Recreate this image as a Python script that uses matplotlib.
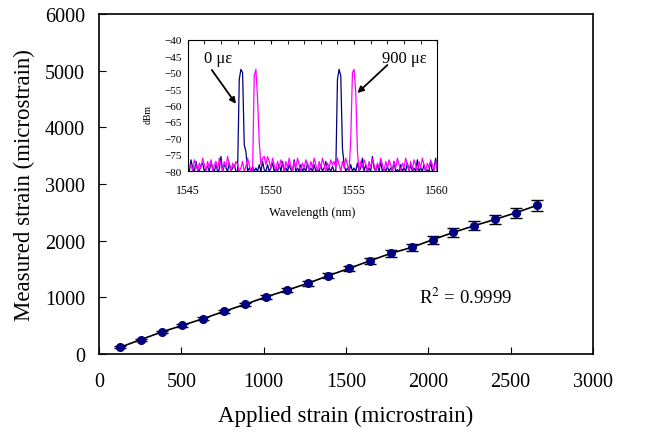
#! /usr/bin/env python3

"Strain calibration plot with FBG spectrum inset."

import numpy as np
import matplotlib
matplotlib.use("Agg")
import matplotlib.pyplot as plt

plt.rcParams['font.family'] = ['Liberation Serif', 'DejaVu Serif']

# main plot data
applied = [127, 253, 380, 507, 633, 760, 887, 1013, 1140, 1267, 1393,
           1520, 1647, 1773, 1900, 2027, 2153, 2280, 2407, 2533, 2660]
measured = [118, 253, 388, 506, 624, 753, 876, 1006, 1124, 1247, 1382,
            1512, 1647, 1777, 1882, 2018, 2147, 2265, 2377, 2494, 2624]
errors = [15, 18, 20, 22, 25, 28, 30, 33, 36, 40, 45,
          50, 55, 60, 65, 70, 75, 80, 85, 90, 100]

# inset spectra (0.1 nm sampling, 1545..1560 nm)
wl = np.round(np.arange(1545, 1560.01, 0.1), 1)
blue_db = [
    -78, -80, -76.5, -79, -80, -77, -79.5, -80, -78, -77.5,
    -80, -79, -78.5, -80, -77, -79, -80, -78, -80, -79.5,
    -75.5, -80, -78, -79, -80, -77.5, -80, -79, -78, -80,
    -80, -52, -49, -50, -72, -74, -80, -79, -80, -78.5,
    -80, -79, -80, -78, -80, -77, -79.5, -80, -78, -80,
    -79, -77.5, -80, -79, -80, -78, -80, -77, -80, -79,
    -80, -78, -79.5, -80, -76.5, -80, -79, -80, -78, -80,
    -79, -80, -77.5, -80, -79, -80, -78, -80, -79.5, -80,
    -78, -80, -79, -77, -80, -79, -80, -78.5, -80, -80,
    -52, -49, -51, -73, -78, -80, -79, -80, -78, -80,
    -79, -80, -77.5, -80, -79, -76, -80, -78, -80, -79,
    -80, -75.5, -79, -80, -78, -80, -77, -80, -79, -80,
    -78.5, -80, -79, -80, -77, -80, -79.5, -80, -78, -80,
    -79, -80, -77.5, -80, -78, -80, -79, -80, -76.5, -80,
    -79, -80, -78, -80, -79.5, -80, -77, -80, -79, -76,
    -80]
magenta_db = [
    -77, -79, -78, -80, -76.5, -78, -80, -77.5, -79, -76,
    -78, -80, -77, -79, -76.5, -80, -78, -77, -79.5, -76,
    -78, -80, -77, -79, -75.5, -78, -80, -77.5, -79, -77,
    -78, -80, -79, -77, -80, -78.5, -76, -78, -80, -80,
    -51, -49, -58, -71, -78, -76, -75.5, -78, -75.5, -77,
    -79, -76, -78, -80, -77, -79, -76.5, -78, -80, -77,
    -79, -76, -78.5, -80, -77, -79, -76, -78, -80, -77.5,
    -79, -76.5, -78, -80, -77, -79, -76, -78, -80, -77,
    -79, -76, -78, -80, -77.5, -79, -76.5, -78, -77, -79,
    -76, -78, -80, -77, -79, -76, -78, -80, -70, -50,
    -49, -56, -74, -80, -77, -79, -76.5, -78, -80, -77,
    -79, -76, -78, -80, -77.5, -79, -76, -78, -80, -77,
    -79, -76.5, -78, -80, -77, -79, -76, -78, -80, -77.5,
    -79, -76, -78, -80, -77, -79.5, -76.5, -78, -80, -77,
    -79, -76, -78, -80, -77.5, -79, -76.5, -78, -80, -77,
    -79]


def make_plot():
    fig = plt.figure(figsize=(6.53, 4.39), dpi=100)
    ax = fig.add_axes([0.1516, 0.1913, 0.7564, 0.7745])
    ax.errorbar(applied, measured, yerr=errors, fmt='none', ecolor='black',
                elinewidth=1, capsize=4, capthick=1, zorder=2)
    ax.plot(applied, measured, color='black', lw=1.2, zorder=3)
    ax.plot(applied, measured, 'o', color='#000080', ms=5.5, zorder=4)
    ax.set_xlim(0, 3000)
    ax.set_ylim(0, 6000)
    ax.set_xticks(range(0, 3001, 500))
    ax.set_yticks(range(0, 6001, 1000))
    ax.tick_params(direction='in', length=5, labelsize=14.5, pad=10)
    ax.tick_params(axis='x', pad=13)
    ax.set_xlabel("Applied strain (microstrain)", fontsize=16.5, labelpad=10)
    ax.set_ylabel("Measured strain (microstrain)", fontsize=16.5, labelpad=7)
    ax.text(1943, 1006, "R$^2$ = 0.9999", fontsize=13.5, ha='left', va='center',
            math_fontfamily='stix')
    for s in ax.spines.values():
        s.set_linewidth(1.2)

    ins = fig.add_axes([0.2874, 0.6075, 0.3823, 0.2998])
    ins.plot(wl, blue_db, color='#000080', lw=0.9)
    ins.plot(wl, magenta_db, color='#ff00ff', lw=0.9)
    ins.set_xlim(1545, 1560)
    ins.set_ylim(-80, -40)
    ins.set_xticks([1545, 1550, 1555, 1560])
    ins.set_xticks(range(1545, 1561), minor=True)
    ins.set_yticks(range(-80, -39, 5))
    ins.tick_params(axis='x', which='both', direction='in', top=True,
                    bottom=False, length=3, labelsize=8.5, pad=9)
    ins.tick_params(axis='y', length=0, labelsize=8, pad=4)
    ins.set_xlabel("Wavelength (nm)", fontsize=9, labelpad=7)
    ins.set_ylabel("dBm", fontsize=7, labelpad=4)
    ins.yaxis.set_label_coords(-0.14, 0.44)
    for s in ins.spines.values():
        s.set_linewidth(0.8)

    arrow = dict(arrowstyle='-|>', color='black', lw=1.3,
                 shrinkA=0, shrinkB=0, mutation_scale=9)
    ins.text(1546.8, -45.6, "0 \u03bc\u03b5", fontsize=12, ha='center', va='center')
    ins.annotate("", xy=(1547.9, -59.5), xytext=(1546.45, -49.2),
                 arrowprops=arrow)
    ins.text(1558.0, -45.6, "900 \u03bc\u03b5", fontsize=12, ha='center', va='center')
    ins.annotate("", xy=(1555.2, -56.2), xytext=(1557.0, -47.7),
                 arrowprops=arrow)

    fig.savefig("out.png", dpi=100)
    plt.close(fig)


if __name__ == '__main__':
    make_plot()
